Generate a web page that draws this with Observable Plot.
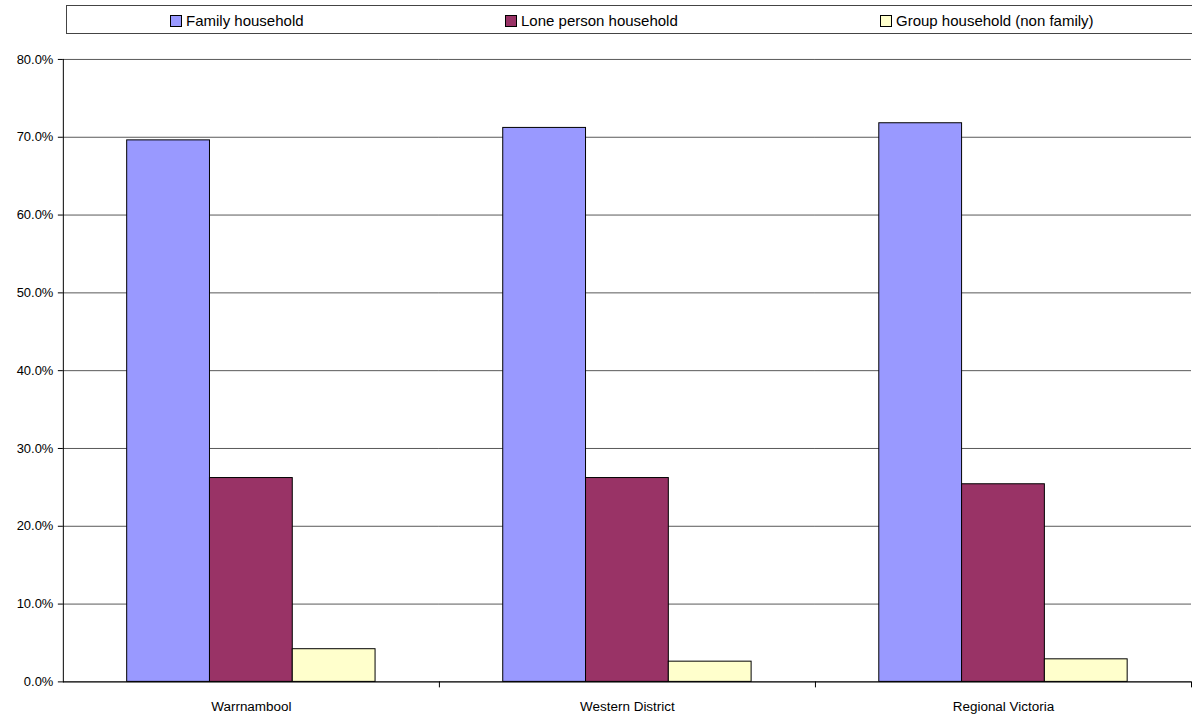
<!DOCTYPE html>
<html>
<head>
<meta charset="utf-8">
<script src="https://cdn.jsdelivr.net/npm/d3@7"></script>
<script src="https://cdn.jsdelivr.net/npm/@observablehq/plot@0.6"></script>
<style>
  html, body { margin: 0; padding: 0; background: #fff; overflow: hidden; }
  body { width: 1192px; height: 718px; position: relative; font-family: "Liberation Sans", Arial, sans-serif; }
  #legend { position: relative; height: 40px; }
  #legend .box { position: absolute; left: 66px; top: 5px; width: 1140px; height: 27px; border: 1px solid #444; box-sizing: content-box; }
  #legend .item { position: absolute; top: 1px; height: 27px; display: flex; align-items: center; font-size: 15px; color: #000; white-space: nowrap; }
  #legend .sw { width: 10px; height: 10px; border: 1px solid #000; margin-right: 4px; }
</style>
</head>
<body>
<div id="legend"><div class="box"></div></div>
<div id="chart"></div>
<script>
// Household composition shares by area
const areas = ["Warrnambool", "Western District", "Regional Victoria"];
const householdTypes = ["Family household", "Lone person household", "Group household (non family)"];
const familyShare = [0.696, 0.712, 0.718];
const loneShare = [0.262, 0.262, 0.254];
const groupShare = [0.042, 0.026, 0.029];
const typeColors = ["#9999FF", "#993366", "#FFFFCC"];
const yTicks = [0, 0.1, 0.2, 0.3, 0.4, 0.5, 0.6, 0.7, 0.8];

const seriesValues = [familyShare, loneShare, groupShare];
const rows = [];
areas.forEach((area, i) => {
  householdTypes.forEach((type, j) => {
    rows.push({area, type, value: seriesValues[j][i]});
  });
});

// legend entries
const legendLeft = [103, 438, 813];
const box = document.querySelector("#legend .box");
householdTypes.forEach((t, j) => {
  const item = document.createElement("div");
  item.className = "item";
  item.style.left = legendLeft[j] + "px";
  const sw = document.createElement("span");
  sw.className = "sw";
  sw.style.background = typeColors[j];
  const label = document.createElement("span");
  label.textContent = t;
  item.append(sw, label);
  box.append(item);
});

const W = 1195, H = 678, mt = 19, mb = 35, ml = 62, mr = 0;
const plotH = H - mt - mb;

const chart = Plot.plot({
  width: W,
  height: H,
  marginTop: mt,
  marginBottom: mb,
  marginLeft: ml,
  marginRight: mr,
  style: {fontFamily: '"Liberation Sans", Arial, sans-serif', fontSize: "13px", color: "#000", background: "#fff"},
  fx: {domain: areas, padding: 0},
  x: {domain: householdTypes, paddingInner: 0, paddingOuter: 0.75, axis: null},
  y: {domain: [0, 0.8]},
  color: {domain: householdTypes, range: typeColors},
  marks: [
    Plot.gridY(yTicks, {stroke: "#585858", strokeOpacity: 1, strokeWidth: 1}),
    Plot.barY(rows, {fx: "area", x: "type", y: "value", fill: "type", stroke: "#000", strokeWidth: 1}),
    Plot.ruleY([0], {stroke: "#000", strokeWidth: 1}),
    // vertical value axis line
    Plot.frame({anchor: "left", fx: () => areas[0], stroke: "#000", strokeWidth: 1}),
    // category separator ticks below the baseline
    Plot.frame({anchor: "right", insetTop: plotH, insetBottom: -5, stroke: "#000", strokeWidth: 1}),
    Plot.axisY({ticks: yTicks, tickFormat: d3.format(".1%"), tickSize: 5, tickPadding: 5, label: null, fontSize: 13}),
    Plot.axisFx({anchor: "bottom", tickSize: 0, tickPadding: 20, label: null, fontSize: 13.5})
  ]
});
document.getElementById("chart").append(chart);
</script>
</body>
</html>
